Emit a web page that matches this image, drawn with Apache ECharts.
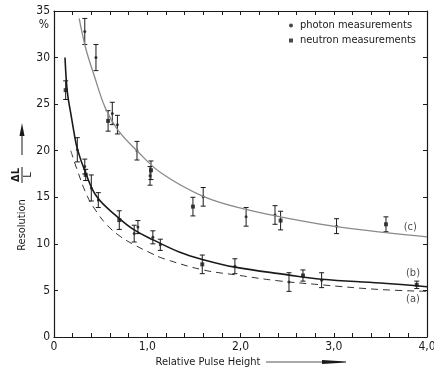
<!DOCTYPE html>
<html>
<head>
<meta charset="utf-8">
<script src="https://cdn.jsdelivr.net/npm/echarts@6/dist/echarts.min.js"></script>
<style>
  html, body { margin: 0; padding: 0; background: #fff; }
  #chart { width: 434px; height: 371px; }
</style>
</head>
<body>
<div id="chart"></div>
<script>
// measured points: [relative pulse height, resolution %, error half-width]
const photonPoints = [
  [0.33, 32.8, 1.4], [0.45, 30.0, 1.4], [0.625, 24.0, 1.2], [0.68, 22.8, 1.0],
  [0.89, 20.0, 1.0], [1.03, 17.3, 1.0], [1.60, 15.05, 1.0], [2.06, 12.9, 1.0],
  [2.37, 13.1, 1.0], [3.03, 11.9, 0.8],
  [0.25, 20.1, 1.3], [0.33, 18.3, 0.8], [0.40, 16.0, 1.4], [0.475, 14.7, 0.8],
  [0.86, 11.1, 0.9], [0.90, 11.8, 0.7], [1.06, 10.7, 0.7], [1.14, 9.9, 0.6],
  [1.94, 7.6, 0.8], [2.52, 5.9, 1.0], [2.87, 6.1, 0.8]
];
const neutronPoints = [
  [0.58, 23.2, 1.1], [1.04, 17.9, 1.0], [1.49, 14.0, 1.0], [2.43, 12.5, 1.0],
  [3.56, 12.1, 0.8],
  [0.125, 26.5, 1.0], [0.34, 17.4, 0.6], [0.70, 12.55, 1.0], [1.59, 7.8, 1.0],
  [2.67, 6.6, 0.6], [3.89, 5.6, 0.4]
];
// fitted curves
const curveA = [
  [0.18, 20.0], [0.25, 17.9], [0.36, 15.05], [0.46, 13.4], [0.57, 12.0], [0.71, 10.8],
  [0.86, 9.9], [1.04, 9.0], [1.18, 8.4], [1.6, 7.2], [1.96, 6.65], [2.39, 6.05],
  [2.87, 5.6], [3.49, 5.1], [4.0, 4.9]
];
const curveB = [
  [0.118, 30.0], [0.143, 26.3], [0.18, 24.0], [0.214, 22.0], [0.25, 20.2], [0.34, 17.6],
  [0.46, 15.05], [0.68, 12.9], [0.86, 11.5], [1.07, 10.4], [1.35, 9.1], [1.6, 8.3],
  [1.94, 7.5], [2.49, 6.7], [2.87, 6.2], [3.5, 5.8], [4.0, 5.4]
];
const curveC = [
  [0.27, 34.2], [0.34, 31.0], [0.43, 28.1], [0.55, 24.6], [0.68, 22.3], [0.89, 20.0],
  [1.15, 17.6], [1.6, 15.1], [2.06, 13.7], [2.64, 12.5], [3.03, 11.85], [3.56, 11.2],
  [4.0, 10.75]
];
const curveTags = [[3.82, 11.8, "(c)"], [3.85, 6.9, "(b)"], [3.85, 4.1, "(a)"]];
const yTicks = ["0", "5", "10", "15", "20", "25", "30", "35"];
const xTicks = ["0", "1,0", "2,0", "3,0", "4,0"];

const FONT = '"Liberation Sans Narrow", "DejaVu Sans Condensed", "Roboto", sans-serif';
const INK = "#1a1a1a";

function renderErrorBar(params, api) {
  const x = api.value(0);
  const y = api.value(1);
  const e = api.value(2);
  const top = api.coord([x, y + e]);
  const bot = api.coord([x, y - e]);
  const hw = 2.5;
  const style = { stroke: INK, lineWidth: 1 };
  return {
    type: "group",
    children: [
      { type: "line", shape: { x1: top[0], y1: top[1], x2: bot[0], y2: bot[1] }, style },
      { type: "line", shape: { x1: top[0] - hw, y1: top[1], x2: top[0] + hw, y2: top[1] }, style },
      { type: "line", shape: { x1: bot[0] - hw, y1: bot[1], x2: bot[0] + hw, y2: bot[1] }, style }
    ]
  };
}

const chart = echarts.init(document.getElementById("chart"), null, { renderer: "canvas" });

const axisLine = { show: true, onZero: false, lineStyle: { color: INK, width: 1.2 } };
const tick = { show: true, inside: true, length: 4, lineStyle: { color: INK } };

chart.setOption({
  animation: false,
  textStyle: { fontFamily: FONT },
  grid: { left: 54, right: 7, top: 11, bottom: 34, containLabel: false, outerBoundsMode: "none" },
  legend: {
    orient: "vertical",
    left: 284,
    top: 15,
    itemWidth: 4,
    itemHeight: 4,
    itemGap: 4,
    data: ["photon measurements", "neutron measurements"],
    textStyle: { fontFamily: FONT, fontSize: 11, color: INK, padding: [0, 0, 0, 2] }
  },
  xAxis: [
    {
      type: "value", position: "bottom", min: 0, max: 4, interval: 0.2,
      axisLine, axisTick: tick, splitLine: { show: false },
      axisLabel: {
        color: INK, fontSize: 12, fontFamily: FONT, margin: 4,
        formatter: (v) => {
          const r = Math.round(v);
          return Math.abs(v - r) < 1e-6 ? xTicks[r] : "";
        }
      }
    },
    {
      type: "value", position: "top", min: 0, max: 4, interval: 0.2,
      axisLine, axisTick: tick, axisLabel: { show: false }, splitLine: { show: false }
    }
  ],
  yAxis: [
    {
      type: "value", position: "left", min: 0, max: 35, interval: 5,
      axisLine, axisTick: tick, splitLine: { show: false },
      axisLabel: {
        color: INK, fontSize: 12, fontFamily: FONT, margin: 4,
        formatter: (v) => yTicks[Math.round(v / 5)]
      }
    },
    {
      type: "value", position: "right", min: 0, max: 35, interval: 5,
      axisLine, axisTick: tick, axisLabel: { show: false }, splitLine: { show: false }
    }
  ],
  series: [
    {
      name: "curve c", type: "line", smooth: 0.4, showSymbol: false, silent: true,
      lineStyle: { color: "#8a8a8a", width: 1.3 }, data: curveC
    },
    {
      name: "curve b", type: "line", smooth: 0.4, showSymbol: false, silent: true,
      lineStyle: { color: INK, width: 1.6 }, data: curveB
    },
    {
      name: "curve a", type: "line", smooth: 0.4, showSymbol: false, silent: true,
      lineStyle: { color: "#333", width: 1, type: [7, 5] }, data: curveA
    },
    {
      name: "errors", type: "custom", renderItem: renderErrorBar, silent: true,
      encode: { x: 0, y: 1 }, data: photonPoints.concat(neutronPoints)
    },
    {
      name: "photon measurements", type: "scatter", symbol: "circle", symbolSize: 3,
      itemStyle: { color: INK }, data: photonPoints
    },
    {
      name: "neutron measurements", type: "scatter", symbol: "rect", symbolSize: 4,
      itemStyle: { color: INK }, data: neutronPoints
    },
    {
      name: "tags", type: "scatter", symbolSize: 0, silent: true,
      data: curveTags,
      label: {
        show: true, position: "inside", color: INK, fontSize: 11, fontFamily: FONT,
        formatter: (p) => p.value[2]
      }
    }
  ],
  graphic: [
    // unit under the top y label
    {
      type: "text", x: 44, y: 25,
      style: { text: "%", fontSize: 12, fontFamily: FONT, fill: INK, align: "center", verticalAlign: "middle" }
    },
    // y axis title
    {
      type: "text", x: 22, y: 225, rotation: Math.PI / 2,
      style: { text: "Resolution", fontSize: 11, fontFamily: FONT, fill: INK, align: "center", verticalAlign: "middle" }
    },
    {
      type: "text", x: 16, y: 175, rotation: Math.PI / 2,
      style: { text: "ΔL", fontSize: 11, fontFamily: FONT, fontWeight: "bold", fill: INK, align: "center", verticalAlign: "middle" }
    },
    {
      type: "line", shape: { x1: 22, y1: 167, x2: 22, y2: 183 }, style: { stroke: INK, lineWidth: 1 }
    },
    {
      type: "text", x: 28, y: 175, rotation: Math.PI / 2,
      style: { text: "L", fontSize: 11, fontFamily: FONT, fill: INK, align: "center", verticalAlign: "middle" }
    },
    {
      type: "line", shape: { x1: 22, y1: 155, x2: 22, y2: 132 }, style: { stroke: INK, lineWidth: 1 }
    },
    {
      type: "polygon", shape: { points: [[19.5, 136], [24.5, 136], [22, 123]] }, style: { fill: INK }
    },
    // x axis title
    {
      type: "text", x: 208, y: 362,
      style: { text: "Relative Pulse Height", fontSize: 11, fontFamily: FONT, fill: INK, align: "center", verticalAlign: "middle" }
    },
    {
      type: "line", shape: { x1: 266, y1: 362, x2: 324, y2: 362 }, style: { stroke: "#555", lineWidth: 1 }
    },
    {
      type: "polygon", shape: { points: [[322, 360], [322, 364], [346, 362.5], [346, 361.5]] }, style: { fill: INK }
    }
  ]
});
</script>
</body>
</html>
